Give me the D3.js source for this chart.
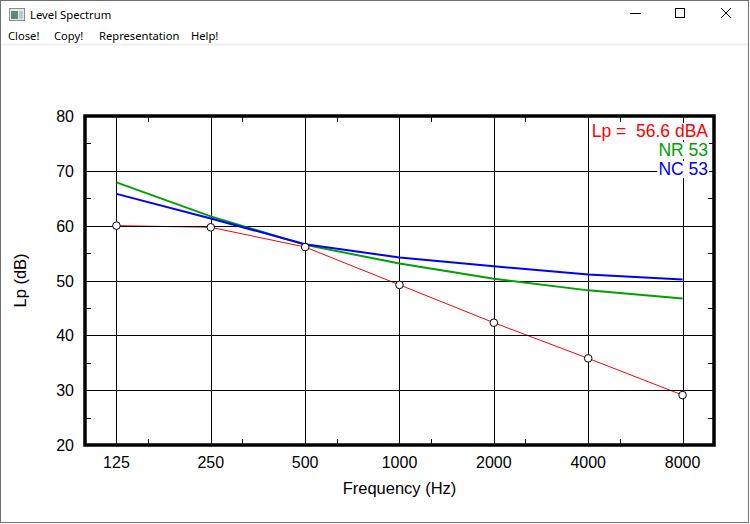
<!DOCTYPE html>
<html>
<head>
<meta charset="utf-8">
<script src="https://cdn.jsdelivr.net/npm/d3@7"></script>
<style>
  html, body { margin: 0; padding: 0; background: #fff; }
  svg { display: block; }
</style>
</head>
<body>
<div id="win"></div>
<script>
// octave band data
const freqs = [125, 250, 500, 1000, 2000, 4000, 8000];
const freqLabels = ["125", "250", "500", "1000", "2000", "4000", "8000"];
const levelTicks = [20, 30, 40, 50, 60, 70, 80];
const measured = [60.0, 59.7, 56.1, 49.2, 42.3, 35.8, 29.1];
const nr53 = [67.9, 61.7, 56.5, 53.1, 50.3, 48.2, 46.7];
const nc53 = [65.8, 61.3, 56.6, 54.2, 52.6, 51.1, 50.2];
const legendLines = [
  { text: "Lp =  56.6 dBA", color: "#ff0000" },
  { text: "NR 53", color: "#00a000" },
  { text: "NC 53", color: "#0000ff" }
];
const menuItems = ["Close!", "Copy!", "Representation", "Help!"];

const W = 750, H = 524;
const svg = d3.select("#win").append("svg").attr("width", W).attr("height", H);

// --- window chrome ---
svg.append("rect").attr("x", 0.5).attr("y", 0.5).attr("width", 748).attr("height", 522)
  .attr("fill", "#fff").attr("stroke", "#707070");
svg.append("line").attr("x1", 1).attr("x2", 748).attr("y1", 44.5).attr("y2", 44.5)
  .attr("stroke", "#f0f0f0").attr("stroke-width", 2);

// app icon
const icon = svg.append("g").attr("transform", "translate(9,8)");
icon.append("rect").attr("x", 0.5).attr("y", 0.5).attr("width", 15).attr("height", 12)
  .attr("fill", "#e8e8e8").attr("stroke", "#8a8a8a");
icon.append("rect").attr("x", 2).attr("y", 3).attr("width", 7).attr("height", 8).attr("fill", "#5c8a7a");
icon.append("rect").attr("x", 10).attr("y", 3).attr("width", 4).attr("height", 8).attr("fill", "#b8c8d8");

const uiFont = "'Noto Sans', 'Open Sans', sans-serif";
svg.append("text").attr("x", 30).attr("y", 19)
  .style("font-family", uiFont).style("font-size", "11.3px")
  .attr("fill", "#000").text("Level Spectrum");

const menuX = [8, 54, 99, 191];
svg.selectAll("text.menu").data(menuItems).enter().append("text")
  .attr("class", "menu")
  .attr("x", (d, i) => menuX[i]).attr("y", 40)
  .style("font-family", uiFont).style("font-size", "11.2px")
  .attr("fill", "#000").text(d => d);

// caption buttons
svg.append("line").attr("x1", 630).attr("x2", 641).attr("y1", 13.5).attr("y2", 13.5).attr("stroke", "#000");
svg.append("rect").attr("x", 675.5).attr("y", 8.5).attr("width", 9).attr("height", 9)
  .attr("fill", "none").attr("stroke", "#000");
svg.append("path").attr("d", "M721,8 L731,18 M731,8 L721,18").attr("stroke", "#000").attr("fill", "none");

// --- chart ---
const plot = { left: 85, right: 714, top: 116, bottom: 445 };
const x = d3.scaleLog()
  .domain([125 / Math.cbrt(2), 8000 * Math.cbrt(2)])
  .range([plot.left, plot.right]);
const y = d3.scaleLinear().domain([20, 80]).range([plot.bottom, plot.top]);

const g = svg.append("g");
const font = "'Liberation Sans', Arial, sans-serif";

// measured spectrum (thin red, under the grid)
const line = d3.line().x(d => x(d[0])).y(d => y(d[1]));
g.append("path")
  .datum(freqs.map((f, i) => [f, measured[i]]))
  .attr("d", line).attr("fill", "none").attr("stroke", "#ff0000").attr("stroke-width", 1);

// grid
g.selectAll("line.vgrid").data(freqs).enter().append("line")
  .attr("class", "vgrid")
  .attr("x1", d => Math.round(x(d)) + 0.5).attr("x2", d => Math.round(x(d)) + 0.5)
  .attr("y1", plot.top).attr("y2", plot.bottom)
  .attr("stroke", "#000").attr("stroke-width", 1);
g.selectAll("line.hgrid").data(levelTicks).enter().append("line")
  .attr("class", "hgrid")
  .attr("y1", d => Math.round(y(d)) + 0.5).attr("y2", d => Math.round(y(d)) + 0.5)
  .attr("x1", plot.left).attr("x2", plot.right)
  .attr("stroke", "#000").attr("stroke-width", 1);

// reference curves
[[nr53, "#00a000"], [nc53, "#0000ff"]].forEach(([vals, col]) => {
  g.append("path")
    .datum(freqs.map((f, i) => [f, vals[i]]))
    .attr("d", line).attr("fill", "none").attr("stroke", col).attr("stroke-width", 2);
});

// measured points
g.selectAll("circle.pt").data(freqs.map((f, i) => [f, measured[i]])).enter().append("circle")
  .attr("class", "pt")
  .attr("cx", d => x(d[0])).attr("cy", d => y(d[1])).attr("r", 3.8)
  .attr("fill", "#fff").attr("stroke", "#000").attr("stroke-width", 1);

// minor ticks: third octaves and 5 dB steps
const thirds = d3.range(-2, 19).map(k => 125 * Math.pow(2, k / 3))
  .filter((f, k) => (k + 2) % 3 !== 0 && x(f) > plot.left + 3 && x(f) < plot.right - 3);
const fives = d3.range(25, 80, 10);
const tickLen = 6;
thirds.forEach(f => {
  const px = Math.round(x(f)) + 0.5;
  g.append("line").attr("x1", px).attr("x2", px).attr("y1", plot.bottom).attr("y2", plot.bottom - tickLen).attr("stroke", "#000");
  g.append("line").attr("x1", px).attr("x2", px).attr("y1", plot.top).attr("y2", plot.top + tickLen).attr("stroke", "#000");
});
fives.forEach(v => {
  const py = Math.round(y(v)) + 0.5;
  g.append("line").attr("x1", plot.left).attr("x2", plot.left + tickLen).attr("y1", py).attr("y2", py).attr("stroke", "#000");
  g.append("line").attr("x1", plot.right).attr("x2", plot.right - tickLen).attr("y1", py).attr("y2", py).attr("stroke", "#000");
});

// frame
g.append("rect")
  .attr("x", plot.left).attr("y", plot.top)
  .attr("width", plot.right - plot.left).attr("height", plot.bottom - plot.top)
  .attr("fill", "none").attr("stroke", "#000").attr("stroke-width", 3.5);

// tick labels
g.selectAll("text.xl").data(freqs).enter().append("text")
  .attr("class", "xl")
  .attr("x", d => x(d)).attr("y", 468)
  .attr("text-anchor", "middle")
  .style("font-family", font).style("font-size", "16px")
  .text((d, i) => freqLabels[i]);
g.selectAll("text.yl").data(levelTicks).enter().append("text")
  .attr("class", "yl")
  .attr("x", 74).attr("y", d => y(d) + 6)
  .attr("text-anchor", "end")
  .style("font-family", font).style("font-size", "16px")
  .text(d => d);

// axis titles
g.append("text")
  .attr("x", (plot.left + plot.right) / 2).attr("y", 494)
  .attr("text-anchor", "middle")
  .style("font-family", font).style("font-size", "16.5px")
  .text("Frequency (Hz)");
g.append("text")
  .attr("transform", `translate(26,${(plot.top + plot.bottom) / 2}) rotate(-90)`)
  .attr("text-anchor", "middle")
  .style("font-family", font).style("font-size", "16.5px")
  .text("Lp (dB)");

// legend, right aligned with white boxes behind text
const leg = g.append("g");
legendLines.forEach((d, i) => {
  const t = leg.append("text")
    .attr("x", 708).attr("y", 137 + i * 19)
    .attr("text-anchor", "end")
    .attr("xml:space", "preserve")
    .style("white-space", "pre")
    .style("font-family", font).style("font-size", "17.5px")
    .attr("fill", d.color)
    .text(d.text);
  const bb = t.node().getBBox();
  leg.insert("rect", () => t.node())
    .attr("x", bb.x - 1).attr("y", bb.y + 2)
    .attr("width", bb.width + 2).attr("height", bb.height - 3)
    .attr("fill", "#fff");
});
</script>
</body>
</html>
